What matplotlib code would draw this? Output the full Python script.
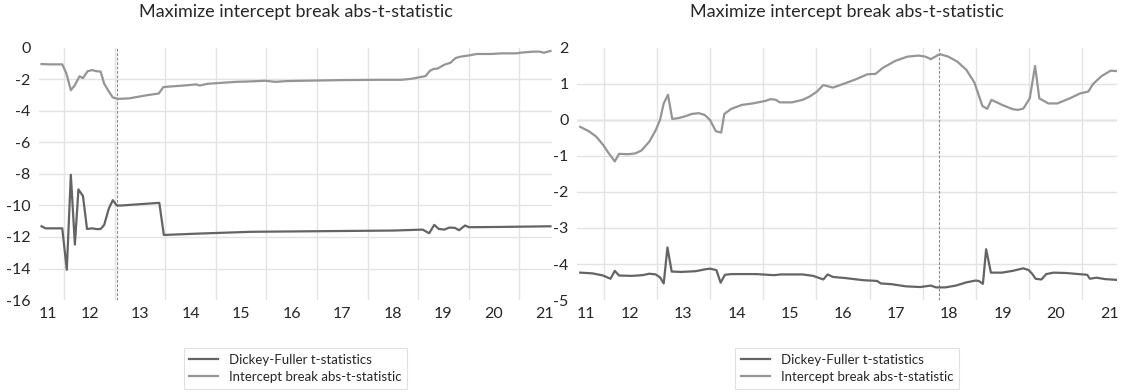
import numpy as np
import matplotlib
matplotlib.use("Agg")
import matplotlib.pyplot as plt

plt.rcParams['font.family'] = ['Lato', 'DejaVu Sans']
plt.rcParams['axes.unicode_minus'] = False

title = "Maximize intercept break abs-t-statistic"
df_label = "Dickey-Fuller t-statistics"
ib_label = "Intercept break abs-t-statistic"
years = [11, 12, 13, 14, 15, 16, 17, 18, 19, 20, 21]

# left panel
left_ib_x = [11.05, 11.22, 11.46, 11.54, 11.63, 11.71, 11.80, 11.87, 11.96, 12.05, 12.13, 12.22,
             12.29, 12.37, 12.46, 12.56, 12.78, 12.92, 13.13, 13.37, 13.46, 13.70, 13.95, 14.11,
             14.18, 14.34, 14.62, 14.90, 15.19, 15.47, 15.68, 15.90, 16.25, 16.96, 17.67, 18.17,
             18.38, 18.65, 18.73, 18.80, 18.89, 19.02, 19.14, 19.24, 19.34, 19.51, 19.66, 19.94,
             20.16, 20.44, 20.58, 20.79, 20.90, 20.99, 21.07, 21.12]
left_ib_y = [-1.02, -1.04, -1.04, -1.6, -2.68, -2.36, -1.80, -1.91, -1.48, -1.40, -1.47, -1.50,
             -2.27, -2.70, -3.14, -3.23, -3.20, -3.12, -3.00, -2.89, -2.48, -2.42, -2.36, -2.31,
             -2.38, -2.27, -2.21, -2.15, -2.12, -2.08, -2.15, -2.10, -2.08, -2.04, -2.02, -2.02,
             -1.95, -1.78, -1.46, -1.34, -1.30, -1.06, -0.94, -0.64, -0.55, -0.47, -0.38, -0.38,
             -0.34, -0.34, -0.28, -0.23, -0.23, -0.30, -0.23, -0.19]
left_df_x = [11.05, 11.13, 11.46, 11.55, 11.63, 11.71, 11.78, 11.87, 11.95, 12.05, 12.14, 12.22,
             12.29, 12.38, 12.46, 12.54, 12.63, 13.38, 13.47, 14.19, 15.19, 16.60, 18.02, 18.59,
             18.72, 18.82, 18.91, 19.02, 19.12, 19.23, 19.31, 19.43, 19.51, 20.16, 21.12]
left_df_y = [-11.32, -11.45, -11.45, -14.08, -8.05, -12.48, -8.98, -9.40, -11.49, -11.45, -11.50, -11.49,
             -11.23, -10.21, -9.66, -10.00, -10.00, -9.83, -11.87, -11.78, -11.67, -11.63, -11.59, -11.53,
             -11.76, -11.23, -11.49, -11.53, -11.40, -11.42, -11.57, -11.27, -11.38, -11.36, -11.32]
left_break = 12.54
left_yticks = [0, -2, -4, -6, -8, -10, -12, -14, -16]

# right panel
right_ib_x = [11.06, 11.22, 11.36, 11.49, 11.59, 11.71, 11.79, 11.96, 12.09, 12.21, 12.36, 12.48,
              12.56, 12.63, 12.71, 12.79, 12.90, 13.03, 13.16, 13.29, 13.40, 13.50, 13.61, 13.71,
              13.77, 13.90, 14.10, 14.30, 14.54, 14.64, 14.74, 14.81, 15.04, 15.24, 15.37, 15.51,
              15.63, 15.81, 16.04, 16.24, 16.46, 16.61, 16.75, 16.98, 17.21, 17.42, 17.55, 17.65,
              17.82, 17.98, 18.15, 18.32, 18.47, 18.62, 18.71, 18.79, 18.99, 19.19, 19.29, 19.39,
              19.51, 19.61, 19.69, 19.86, 20.03, 20.26, 20.46, 20.61, 20.70, 20.86, 21.03, 21.13]
right_ib_y = [-0.19, -0.31, -0.46, -0.69, -0.91, -1.15, -0.94, -0.95, -0.93, -0.85, -0.60, -0.28,
              0.0, 0.46, 0.70, 0.03, 0.05, 0.10, 0.17, 0.19, 0.14, 0.0, -0.31, -0.35,
              0.17, 0.31, 0.42, 0.46, 0.53, 0.58, 0.56, 0.49, 0.49, 0.56, 0.65, 0.79,
              0.97, 0.90, 1.02, 1.13, 1.27, 1.28, 1.45, 1.64, 1.76, 1.79, 1.76, 1.69,
              1.83, 1.76, 1.62, 1.39, 1.04, 0.39, 0.31, 0.56, 0.42, 0.30, 0.28, 0.32,
              0.60, 1.50, 0.60, 0.46, 0.46, 0.60, 0.74, 0.79, 1.00, 1.22, 1.37, 1.36]
right_df_x = [11.06, 11.29, 11.49, 11.63, 11.71, 11.79, 12.03, 12.23, 12.36, 12.48, 12.56, 12.63,
              12.70, 12.78, 12.96, 13.23, 13.40, 13.50, 13.62, 13.70, 13.78, 13.90, 14.37, 14.70,
              14.84, 15.24, 15.44, 15.63, 15.71, 15.81, 16.04, 16.38, 16.64, 16.71, 16.91, 17.18,
              17.45, 17.65, 17.75, 17.92, 18.12, 18.32, 18.49, 18.55, 18.63, 18.69, 18.78, 18.99,
              19.19, 19.39, 19.49, 19.56, 19.62, 19.73, 19.82, 19.96, 20.19, 20.59, 20.64, 20.76,
              20.93, 21.13]
right_df_y = [-4.24, -4.26, -4.32, -4.41, -4.19, -4.32, -4.33, -4.31, -4.27, -4.29, -4.37, -4.54,
              -3.54, -4.21, -4.22, -4.20, -4.15, -4.13, -4.17, -4.52, -4.30, -4.28, -4.28, -4.31,
              -4.29, -4.29, -4.33, -4.43, -4.29, -4.36, -4.39, -4.45, -4.47, -4.54, -4.56, -4.62,
              -4.64, -4.60, -4.65, -4.65, -4.60, -4.51, -4.46, -4.47, -4.55, -3.59, -4.24, -4.24,
              -4.19, -4.12, -4.17, -4.28, -4.41, -4.43, -4.28, -4.24, -4.25, -4.30, -4.41, -4.38,
              -4.42, -4.44]
right_break = 17.80
right_yticks = [2, 1, 0, -1, -2, -3, -4, -5]

df_color = '#646464'
ib_color = '#959595'
grid_color = '#e3e3e3'

fig = plt.figure(figsize=(11.22, 3.92), dpi=100)
ax1 = fig.add_axes([39 / 1122, 1 - 300 / 392, 513 / 1122, 252 / 392])
ax2 = fig.add_axes([577 / 1122, 1 - 300 / 392, 540 / 1122, 252 / 392])

panels = [
    (ax1, left_df_x, left_df_y, left_ib_x, left_ib_y, left_break, left_yticks),
    (ax2, right_df_x, right_df_y, right_ib_x, right_ib_y, right_break, right_yticks),
]

for ax, dfx, dfy, ibx, iby, brk, yt in panels:
    ax.plot(dfx, dfy, color=df_color, lw=1.6, label=df_label, zorder=3)
    ax.plot(ibx, iby, color=ib_color, lw=1.6, label=ib_label, zorder=3)
    ax.axvline(brk, color='#8a8a8a', lw=0.8, ls=(0, (2.5, 1.5)), zorder=2)

    ax.set_xlim(11.0, 21.15)
    ax.set_ylim(min(yt), max(yt))
    ax.set_yticks(yt)
    ax.set_yticklabels([str(v) for v in yt])
    ax.set_xticks(years)
    ax.set_xticklabels([str(y) for y in years])
    ax.get_xticklabels()[0].set_horizontalalignment('left')
    ax.set_xticks(np.arange(11.5, 21, 1.0), minor=True)
    ax.tick_params(which='both', length=0, labelsize=11.5, colors='#262626')
    ax.tick_params(axis='x', pad=5)
    ax.tick_params(axis='y', pad=6)
    ax.grid(which='minor', axis='x', color=grid_color, lw=1.0, zorder=0)
    ax.grid(which='major', axis='y', color=grid_color, lw=1.0, zorder=0)
    ax.grid(which='major', axis='x', visible=False)
    gl = ax.get_ygridlines()
    gl[0].set_visible(False)
    gl[-1].set_visible(False)
    for s in ax.spines.values():
        s.set_visible(False)
    ax.set_title(title, fontsize=13, color='#262626', pad=22)
    leg = ax.legend(loc='upper center', bbox_to_anchor=(0.5, -0.165), fontsize=9.5,
                    frameon=True, fancybox=False, edgecolor='#d9d9d9', handlelength=2.2,
                    handletextpad=0.8, labelspacing=0.35, borderpad=0.45)
    leg.get_frame().set_linewidth(0.8)
    for t in leg.get_texts():
        t.set_color('#262626')

ax2.axhline(0, color='#bfbfbf', lw=1.0, zorder=1)

fig.savefig('out.png', dpi=100)
